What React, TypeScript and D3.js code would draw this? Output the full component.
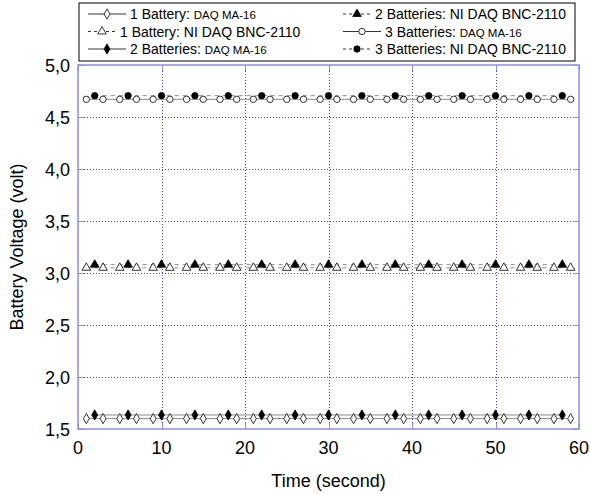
import React from "react";
import * as d3 from "d3";

// time stamps (second)
const timeOdd = [1, 3, 5, 7, 9, 11, 13, 15, 17, 19, 21, 23, 25, 27, 29, 31, 33, 35, 37, 39, 41, 43, 45, 47, 49, 51, 53, 55, 57, 59];
const timeEvery4 = [2, 6, 10, 14, 18, 22, 26, 30, 34, 38, 42, 46, 50, 54, 58];

// voltages (volt)
const bat1MA16 = [1.6, 1.6, 1.6, 1.6, 1.6, 1.6, 1.6, 1.6, 1.6, 1.6, 1.6, 1.6, 1.6, 1.6, 1.6, 1.6, 1.6, 1.6, 1.6, 1.6, 1.6, 1.6, 1.6, 1.6, 1.6, 1.6, 1.6, 1.6, 1.6, 1.6];
const bat1NI = [3.05, 3.05, 3.05, 3.05, 3.05, 3.05, 3.05, 3.05, 3.05, 3.05, 3.05, 3.05, 3.05, 3.05, 3.05, 3.05, 3.05, 3.05, 3.05, 3.05, 3.05, 3.05, 3.05, 3.05, 3.05, 3.05, 3.05, 3.05, 3.05, 3.05];
const bat2MA16 = [1.635, 1.635, 1.635, 1.635, 1.635, 1.635, 1.635, 1.635, 1.635, 1.635, 1.635, 1.635, 1.635, 1.635, 1.635];
const bat2NI = [3.08, 3.08, 3.08, 3.08, 3.08, 3.08, 3.08, 3.08, 3.08, 3.08, 3.08, 3.08, 3.08, 3.08, 3.08];
const bat3MA16 = [4.67, 4.67, 4.67, 4.67, 4.67, 4.67, 4.67, 4.67, 4.67, 4.67, 4.67, 4.67, 4.67, 4.67, 4.67, 4.67, 4.67, 4.67, 4.67, 4.67, 4.67, 4.67, 4.67, 4.67, 4.67, 4.67, 4.67, 4.67, 4.67, 4.67];
const bat3NI = [4.705, 4.705, 4.705, 4.705, 4.705, 4.705, 4.705, 4.705, 4.705, 4.705, 4.705, 4.705, 4.705, 4.705, 4.705];

const xTicks = [0, 10, 20, 30, 40, 50, 60];
const yTicks = [1.5, 2.0, 2.5, 3.0, 3.5, 4.0, 4.5, 5.0];

type Shape = "diamond" | "triangle" | "circle";

const series = [
  { name: "1 Battery: ", device: "DAQ MA-16", x: timeOdd, y: bat1MA16, shape: "diamond" as Shape, filled: false, dashed: false },
  { name: "1 Battery: ", device: "NI DAQ BNC-2110", x: timeOdd, y: bat1NI, shape: "triangle" as Shape, filled: false, dashed: true },
  { name: "2 Batteries: ", device: "DAQ MA-16", x: timeEvery4, y: bat2MA16, shape: "diamond" as Shape, filled: true, dashed: false },
  { name: "2 Batteries: ", device: "NI DAQ BNC-2110", x: timeEvery4, y: bat2NI, shape: "triangle" as Shape, filled: true, dashed: true },
  { name: "3 Batteries: ", device: "DAQ MA-16", x: timeOdd, y: bat3MA16, shape: "circle" as Shape, filled: false, dashed: false },
  { name: "3 Batteries: ", device: "NI DAQ BNC-2110", x: timeEvery4, y: bat3NI, shape: "circle" as Shape, filled: true, dashed: true },
];

const FONT = "'Liberation Sans', Arial, sans-serif";
const FRAME = "#8c8ce6";
const GRID = "#3a3ae0";

function Marker({ shape, filled, cx, cy }: { shape: Shape; filled: boolean; cx: number; cy: number }) {
  const fill = filled ? "#000" : "#fff";
  if (shape === "circle") {
    return <circle cx={cx} cy={cy} r={3.2} fill={fill} stroke="#000" strokeWidth={0.8} />;
  }
  const sym = shape === "diamond" ? d3.symbolDiamond : d3.symbolTriangle;
  const size = shape === "diamond" ? 30 : 32;
  return (
    <path
      d={d3.symbol(sym, size)() as string}
      transform={`translate(${cx},${cy})`}
      fill={fill}
      stroke="#000"
      strokeWidth={0.8}
    />
  );
}

export default function App() {
  const margin = { left: 78, right: 579, top: 65, bottom: 429 };
  const x = d3.scaleLinear().domain([0, 60]).range([margin.left, margin.right]);
  const y = d3.scaleLinear().domain([1.5, 5.0]).range([margin.bottom, margin.top]);
  const fmt = (v: number) => d3.format(".1f")(v).replace(".", ",");
  const crisp = (v: number) => Math.round(v) + 0.5;

  const mkLine = (xs: number[]) =>
    d3
      .line<number>()
      .x((_, i) => x(xs[i]))
      .y((v) => y(v));

  // legend layout
  const legendRows = [
    [series[0], series[3]],
    [series[1], series[4]],
    [series[2], series[5]],
  ];
  const colX = [88, 343];
  const rowY = [14, 31.5, 49];

  return (
    <svg
      width={590}
      height={494}
      style={{ position: "absolute", left: 0, top: 0, background: "#fff" }}
      fontFamily={FONT}
    >
      {/* grid */}
      <g>
        {xTicks.slice(1, -1).map((t) => (
          <line key={"gx" + t} x1={crisp(x(t))} x2={crisp(x(t))} y1={margin.top} y2={margin.bottom} stroke={GRID} strokeWidth={1} strokeDasharray="1,2" />
        ))}
        {yTicks.slice(1, -1).map((t) => (
          <line key={"gy" + t} x1={margin.left} x2={margin.right} y1={crisp(y(t))} y2={crisp(y(t))} stroke={GRID} strokeWidth={1} strokeDasharray="1,2" />
        ))}
      </g>

      {/* series lines */}
      {series.map((s, i) => (
        <path
          key={"l" + i}
          d={mkLine(s.x)(s.y) as string}
          fill="none"
          stroke="#8a8a8a"
          strokeWidth={1}
          strokeDasharray={s.dashed ? "4,4" : undefined}
        />
      ))}
      {/* markers */}
      {series.map((s, i) => (
        <g key={"m" + i}>
          {s.y.map((v, j) => (
            <Marker key={j} shape={s.shape} filled={s.filled} cx={x(s.x[j])} cy={y(v)} />
          ))}
        </g>
      ))}

      {/* frame and ticks */}
      <rect x={margin.left} y={margin.top} width={margin.right - margin.left} height={margin.bottom - margin.top} fill="none" stroke={FRAME} strokeWidth={1.5} />
      {xTicks.map((t) => (
        <g key={"tx" + t}>
          <line x1={crisp(x(t))} x2={crisp(x(t))} y1={margin.bottom} y2={margin.bottom - 6} stroke={FRAME} />
          <line x1={crisp(x(t))} x2={crisp(x(t))} y1={margin.top} y2={margin.top + 6} stroke={FRAME} />
          <text x={x(t)} y={margin.bottom + 25} textAnchor="middle" fontSize={18} fill="#000">
            {t}
          </text>
        </g>
      ))}
      {yTicks.map((t) => (
        <g key={"ty" + t}>
          <line x1={margin.left} x2={margin.left + 6} y1={crisp(y(t))} y2={crisp(y(t))} stroke={FRAME} />
          <line x1={margin.right} x2={margin.right - 6} y1={crisp(y(t))} y2={crisp(y(t))} stroke={FRAME} />
          <text x={margin.left - 8} y={y(t) + 6.5} textAnchor="end" fontSize={18} fill="#000">
            {fmt(t)}
          </text>
        </g>
      ))}

      {/* axis titles */}
      <text x={(margin.left + margin.right) / 2} y={487} textAnchor="middle" fontSize={18} fill="#000">
        Time (second)
      </text>
      <text transform={`translate(23,${(margin.top + margin.bottom) / 2}) rotate(-90)`} textAnchor="middle" fontSize={18} fill="#000">
        Battery Voltage (volt)
      </text>

      {/* legend */}
      <rect x={79} y={3} width={496} height={58} fill="#fff" stroke="#000" strokeWidth={1} />
      {legendRows.map((row, ri) =>
        row.map((s, ci) => {
          const x0 = colX[ci];
          const cy = rowY[ri];
          const x1 = x0 + (s.dashed ? 28 : 38);
          const tx = x1 + 4;
          return (
            <g key={"lg" + ri + ci}>
              <line x1={x0} x2={x1} y1={cy} y2={cy} stroke="#000" strokeWidth={0.8} strokeDasharray={s.dashed ? "3,3" : undefined} />
              <Marker shape={s.shape} filled={s.filled} cx={(x0 + x1) / 2} cy={cy} />
              <text x={tx} y={cy + 5} fontSize={14} fill="#000">
                {s.name}
                <tspan fontSize={s.device === "DAQ MA-16" ? 11.5 : 14}>{s.device}</tspan>
              </text>
            </g>
          );
        })
      )}
    </svg>
  );
}
